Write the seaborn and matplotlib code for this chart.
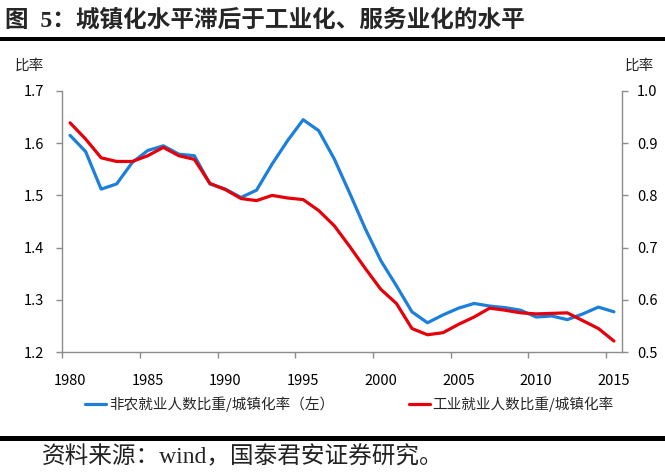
import numpy as np
import pandas as pd
import matplotlib
matplotlib.use("Agg")
import matplotlib.pyplot as plt
import seaborn as sns
from matplotlib.patches import Rectangle

years = list(range(1980, 2016))
nonfarm_ratio = [1.615, 1.584, 1.512, 1.522, 1.563, 1.586, 1.595, 1.579, 1.576, 1.522,
                 1.512, 1.496, 1.510, 1.560, 1.605, 1.645, 1.624, 1.570, 1.504, 1.436,
                 1.375, 1.327, 1.277, 1.256, 1.271, 1.284, 1.293, 1.288, 1.285, 1.280,
                 1.267, 1.269, 1.262, 1.273, 1.286, 1.277]
industry_ratio = [0.939, 0.908, 0.872, 0.865, 0.865, 0.876, 0.892, 0.876, 0.869, 0.823,
                  0.811, 0.794, 0.790, 0.800, 0.795, 0.792, 0.771, 0.742, 0.702, 0.660,
                  0.620, 0.593, 0.545, 0.533, 0.537, 0.553, 0.567, 0.584, 0.580, 0.575,
                  0.573, 0.574, 0.575, 0.560, 0.545, 0.521]
label_left = "非农就业人数比重/城镇化率（左）"
label_right = "工业就业人数比重/城镇化率"
title = "图  5：城镇化水平滞后于工业化、服务业化的水平"
source = "资料来源：wind，国泰君安证券研究。"
left_ticks = [1.2, 1.3, 1.4, 1.5, 1.6, 1.7]
right_ticks = [0.5, 0.6, 0.7, 0.8, 0.9, 1.0]
year_labels = list(range(1980, 2016, 5))

sns.set_theme(style="white")
plt.rcParams['font.family'] = ['Noto Sans CJK SC', 'DejaVu Sans']

df = pd.DataFrame({"year": years, "nonfarm": nonfarm_ratio, "industry": industry_ratio})

W, H = 665, 475
fig = plt.figure(figsize=(W / 100, H / 100), dpi=100)
ax = fig.add_axes([62.3 / W, 1 - 352 / H, (621.7 - 62.3) / W, (352 - 91) / H])
ax2 = ax.twinx()

blue = "#1C7FDB"
red = "#E6000A"
sns.lineplot(data=df, x="year", y="nonfarm", ax=ax, color=blue, linewidth=2.3, label=label_left, legend=False)
sns.lineplot(data=df, x="year", y="industry", ax=ax2, color=red, linewidth=2.3, label=label_right, legend=False)

ax.set_xlim(1979.5, 2015.5)
ax.set_ylim(1.2, 1.7)
ax2.set_ylim(0.5, 1.0)
ax.set_xlabel("")
ax.set_ylabel("")
ax2.set_ylabel("")

ax.set_yticks(left_ticks)
ax.set_yticklabels([f"{v:.1f}" for v in left_ticks])
ax2.set_yticks(right_ticks)
ax2.set_yticklabels([f"{v:.1f}" for v in right_ticks])
ax.set_xticks(year_labels)
ax.set_xticklabels([str(y) for y in year_labels])
ax.set_xticks([y - 0.5 for y in year_labels], minor=True)

gray = "#8C8C8C"
for a in (ax, ax2):
    for s in a.spines.values():
        s.set_visible(False)
ax.spines['left'].set_visible(True)
ax.spines['bottom'].set_visible(True)
ax2.spines['right'].set_visible(True)
for s in (ax.spines['left'], ax.spines['bottom'], ax2.spines['right']):
    s.set_color(gray)
    s.set_linewidth(1.0)

tick_font = 10.5
ax.tick_params(axis='x', which='major', length=0, pad=16, labelsize=tick_font, colors='black')
ax.tick_params(axis='x', which='minor', length=4, width=1, color=gray, direction='out', bottom=True)
ax.tick_params(axis='y', length=4, width=1, color=gray, direction='out', left=True, pad=9,
               labelsize=tick_font, labelcolor='black')
ax2.tick_params(axis='y', length=4, width=1, color=gray, direction='out', right=True, pad=7,
                labelsize=tick_font, labelcolor='black')
ax.grid(False)
ax2.grid(False)

# axis unit labels
fig.text(15 / W, 1 - 66 / H, "比率", fontsize=10.5, ha='left', va='center')
fig.text(625 / W, 1 - 66 / H, "比率", fontsize=10.5, ha='left', va='center')

# legend
h1, l1 = ax.get_legend_handles_labels()
h2, l2 = ax2.get_legend_handles_labels()
fig.legend(h1 + h2, l1 + l2, loc='center left', bbox_to_anchor=(85 / W, 1 - 404 / H),
           ncol=2, frameon=False, fontsize=10.5, handlelength=1.45, handletextpad=0.2,
           columnspacing=5.1, borderaxespad=0, borderpad=0)

# title & rules
fig.text(5 / W, 1 - 20 / H, title, fontsize=17, fontweight='bold', ha='left', va='center',
         family=['Liberation Serif', 'Noto Sans CJK SC'])
fig.add_artist(Rectangle((0, 1 - 40.7 / H), 1, 4 / H, transform=fig.transFigure,
                         color='black', lw=0))
fig.add_artist(Rectangle((0, 1 - 440.5 / H), 1, 4.5 / H, transform=fig.transFigure,
                         color='black', lw=0))
fig.text(42 / W, 1 - 457 / H, source, fontsize=17, ha='left', va='center', color='#222222',
         family=['Liberation Serif', 'Noto Sans CJK SC'])

fig.savefig("out.png", dpi=100)
